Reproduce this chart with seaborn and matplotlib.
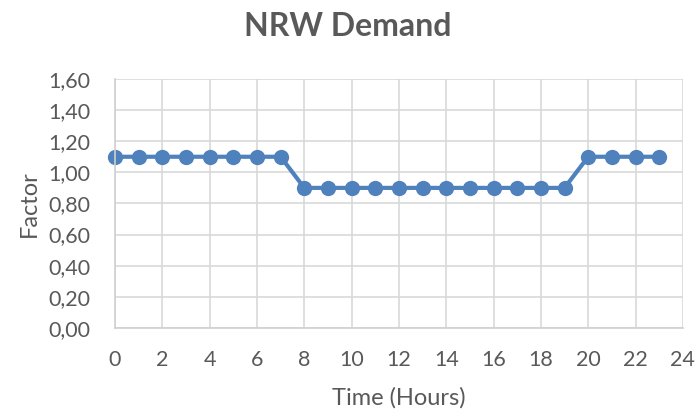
import seaborn as sns
import matplotlib.pyplot as plt
from matplotlib.ticker import FuncFormatter, MultipleLocator

hours = list(range(24))
factor = [1.10] * 8 + [0.90] * 12 + [1.10] * 4

sns.set_theme(style="whitegrid")
plt.rcParams['font.family'] = ['Lato', 'DejaVu Sans']

fig = plt.figure(figsize=(6.95, 4.11), dpi=100)
ax = fig.add_axes([0.1655, 0.202, 0.817, 0.606])
sns.lineplot(x=hours, y=factor, ax=ax, color="#4f81bd", linewidth=3,
             marker="o", markersize=11, markeredgewidth=0, clip_on=False)

ax.set_xlim(0, 24)
ax.set_ylim(0, 1.6)
ax.xaxis.set_major_locator(MultipleLocator(2))
ax.yaxis.set_major_locator(MultipleLocator(0.2))
ax.yaxis.set_major_formatter(FuncFormatter(lambda v, p: f"{v:.2f}".replace(".", ",")))

ax.grid(True, color="#d9d9d9", linewidth=1.2)
for s in ["top", "right"]:
    ax.spines[s].set_visible(False)
for s in ["left", "bottom"]:
    ax.spines[s].set_color("#d0d0d0")
    ax.spines[s].set_linewidth(1.2)

ax.tick_params(colors="#595959", labelsize=15.5, length=0)
ax.tick_params(axis="x", pad=16)
ax.tick_params(axis="y", pad=18)
ax.set_xlabel("Time (Hours)", fontsize=17, color="#595959", labelpad=12)
ax.set_ylabel("Factor", fontsize=17, color="#595959", labelpad=6)
fig.suptitle("NRW Demand", fontsize=23, fontweight="bold", color="#595959", y=0.97)

fig.savefig("out.png", dpi=100)
